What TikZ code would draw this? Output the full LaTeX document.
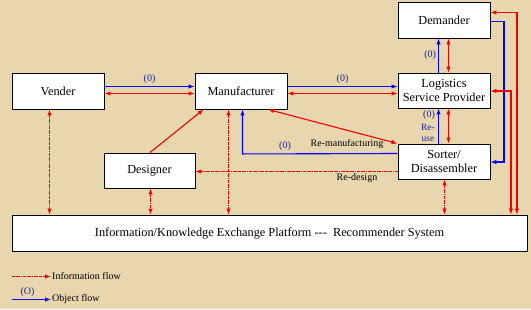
\documentclass[tikz,border=0pt]{standalone}
\usepackage{fontspec}
\setmainfont{Liberation Serif}
\usetikzlibrary{arrows.meta,calc}
\definecolor{parch}{RGB}{232,215,174}
\definecolor{ored}{RGB}{245,0,0}
\definecolor{oblue}{RGB}{0,0,255}
\definecolor{lblue}{RGB}{30,30,170}
\begin{document}
\begin{tikzpicture}[x=1pt,y=-1pt,
  box/.style={draw=black,line width=0.9pt,fill=white,inner sep=0pt,minimum width=92pt,minimum height=36pt,align=center,font=\fontsize{12.3}{13.5}\selectfont},
  obj/.style={draw=oblue,line width=1.1pt,-{Latex[length=6pt,width=4.5pt]}},
  inf/.style={draw=ored,line width=1.1pt,{Latex[length=6pt,width=4.5pt]}-{Latex[length=6pt,width=4.5pt]}},
  ddash/.style={dash pattern=on 3pt off 0.8pt on 0.8pt off 0.8pt},
  infdd/.style={inf,ddash},
  olab/.style={text=lblue,font=\fontsize{10}{11}\selectfont,inner sep=0pt},
  slab/.style={text=black,font=\fontsize{10}{11}\selectfont,inner sep=0pt}]
\fill[parch] (0,0) rectangle (531,309);
\useasboundingbox (0,0) rectangle (531,309);

\node[box] (dem) at (444,20) {Demander};
\node[box,minimum height=35pt] (log) at (444,90.5) {Logistics\\Service Provider};
\node[box] (man) at (241,91) {Manufacturer};
\node[box] (ven) at (58,91) {Vender};
\node[box,minimum width=91pt,minimum height=35pt] (des) at (149.5,170.5) {Designer};
\node[box,minimum height=35pt] (sor) at (444,161.5) {Sorter/\\Disassembler};
\node[box,minimum width=515pt] (plat) at (269.5,233) {Information/Knowledge Exchange Platform -{}-{}-\ \ Recommender System};

% Vender - Manufacturer
\draw[obj] ($(ven.east)+(0,-4.5)$) -- node[olab,above=2pt]{(0)} ($(man.west)+(0,-4.5)$);
\draw[inf] ($(ven.east)+(0,2.5)$) -- ($(man.west)+(0,2.5)$);
% Manufacturer - Logistics
\draw[obj] ($(man.east)+(0,-4.5)$) -- node[olab,above=2pt]{(0)} ($(log.west)+(0,-4)$);
\draw[inf] ($(man.east)+(0,2.5)$) -- ($(log.west)+(0,3)$);
% Logistics - Demander
\draw[obj] ($(log.north)+(-5.5,0)$) -- node[olab,left=2pt]{(0)} ($(dem.south)+(-5.5,0)$);
\draw[inf] ($(log.north)+(4.5,0)$) -- ($(dem.south)+(4.5,0)$);
% Demander - Sorter (blue right)
\coordinate (b1a) at ($(dem.east)+(0,1.5)$);
\coordinate (b1) at ($(dem.east)+(13.5,1.5)$);
\coordinate (b1b) at ($(sor.east)+(0,0.5)$);
\draw[obj] (b1a) -- (b1) -- (b1 |- b1b) -- (b1b);
% red right lines
\coordinate (r1) at ($(plat.north east)+(-10.5,0)$);
\coordinate (r2) at ($(plat.north east)+(-16.5,0)$);
\coordinate (d8) at ($(dem.east)+(0,-7.5)$);
\coordinate (l8) at ($(log.east)+(0,0.5)$);
\draw[inf] (r1) -- (r1 |- d8) -- (d8);
\draw[inf] (r2) -- (r2 |- l8) -- (l8);
% Sorter - Logistics
\draw[obj] ($(sor.north)+(-5.5,0)$) -- ($(log.south)+(-5.5,0)$);
\node[olab] (ol) at (429,115) {(0)};
\node[olab,font=\fontsize{9.5}{10}\selectfont] (re) at (428,127) {Re-};
\node[olab,font=\fontsize{9.5}{10}\selectfont] (us) at (428,139) {use};
\draw[inf] ($(sor.north)+(4.5,0)$) -- ($(log.south)+(4.5,0)$);
% Sorter - Manufacturer blue
\coordinate (b2) at ($(man.south)+(1.5,44.5)$);
\draw[obj] ($(sor.west)+(0,-8)$) -- (b2) -- ($(man.south)+(1.5,0)$);
\node[olab] (o3) at (285,146) {(0)};
% Re-manufacturing
\draw[inf] ($(man.south)+(27,0)$) -- (sor.north west);
\node[slab] (rm) at (347,144) {Re-manufacturing};
% Re-design
\draw[draw=ored,line width=1.1pt,ddash,-{Latex[length=6pt,width=4.5pt]}] ($(sor.west)+(0,10)$) -- ($(des.east)+(0,1)$);
\node[slab] (rd) at (357,178) {Re-design};
% Designer - Manufacturer
\draw[draw=ored,line width=1.1pt,-{Latex[length=6pt,width=4.5pt]}] ($(des.north)+(0.5,0)$) -- ($(man.south west)+(9,0)$);
% verticals to platform
\coordinate (v1) at ($(ven.south)+(-8.5,0)$);
\coordinate (v2) at ($(des.south)+(1,0)$);
\coordinate (v3) at ($(man.south)+(-12.5,0)$);
\coordinate (v4) at ($(sor.south)+(0.5,0)$);
\draw[infdd] (v1) -- (v1 |- plat.north);
\draw[infdd] (v2) -- (v2 |- plat.north);
\draw[infdd] (v3) -- (v3 |- plat.north);
\draw[infdd] (v4) -- (v4 |- plat.north);

% legend
\coordinate (l1) at (12,276.5);
\coordinate (l2) at (51,276.5);
\draw[draw=ored,line width=1.1pt,ddash,-{Latex[length=6pt,width=4.5pt]}] (l1) -- (l2);
\node[slab,anchor=west] (lt1) at (52,276) {Information flow};
\coordinate (l3) at (12,299.5);
\coordinate (l4) at (51,299.5);
\draw[obj] (l3) -- node[olab,above=2pt,pos=0.4]{(O)} (l4);
\node[slab,anchor=west] (lt2) at (52,299) {Object flow};
\end{tikzpicture}
\end{document}
